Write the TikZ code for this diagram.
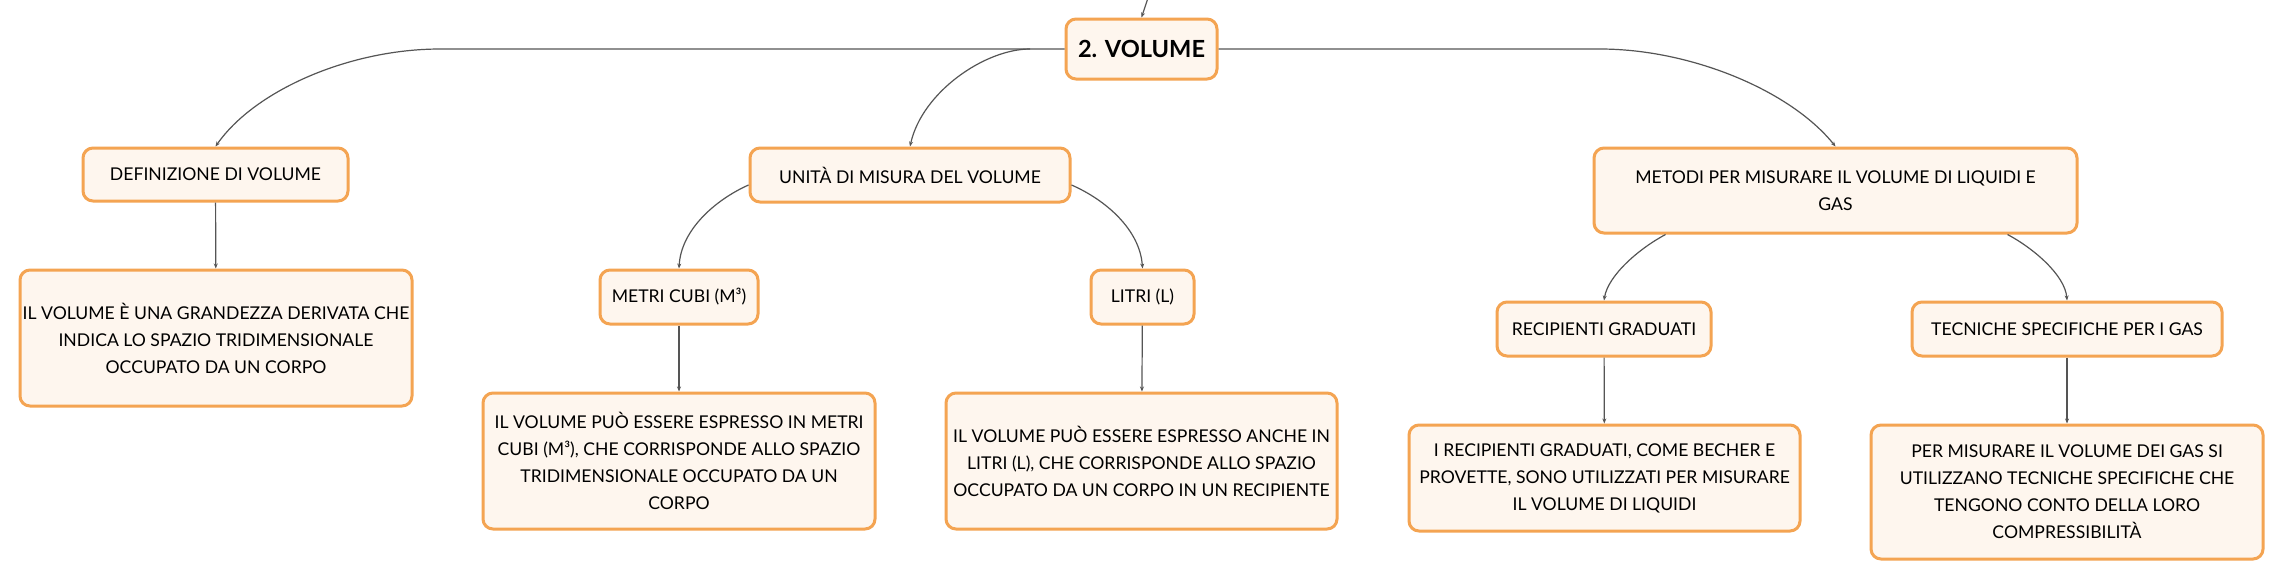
\documentclass[tikz,border=0pt]{standalone}
\usepackage{fontspec}
\setmainfont{Lato}
\usetikzlibrary{calc,arrows.meta}
\definecolor{mmorange}{HTML}{F4A452}
\definecolor{mmcream}{HTML}{FEF6EE}
\definecolor{mmgrey}{HTML}{555555}
\tikzset{
	box/.style={draw=mmorange, line width=1.5pt, fill=mmcream, rounded corners=5pt, align=center, inner sep=0pt, font=\fontsize{8.8}{13.5}\selectfont},
	sz/.style 2 args={minimum width=#1*0.5pt, minimum height=#2*0.5pt},
	link/.style={draw=mmgrey, line width=0.6pt, -{Stealth[length=2.5pt,width=2pt]}}
}
\begin{document}
\begin{tikzpicture}[x=0.5pt, y=-0.5pt]
		%%%%% START %%%%%
		
		\fill[white] (0, 0) rectangle (2284, 580);
		\useasboundingbox (0, 0) rectangle (2284, 580);
		
		\node[box, sz={151}{60}, font=\fontsize{11.8}{13.5}\selectfont\bfseries] (volume) at (1141.5, 49) {2. VOLUME};
		
		\node[box, sz={265}{53}] (defin) at (215.5, 174.5) {DEFINIZIONE DI VOLUME};
		\node[box, sz={320}{54}] (unita) at (910, 175) {UNITÀ DI MISURA DEL VOLUME};
		\node[box, sz={483}{85}] (metodi) at (1835.5, 190.5) {METODI PER MISURARE IL VOLUME DI LIQUIDI E\\GAS};
		
		\node[box, sz={392}{136}] (defintxt) at (216, 338) {IL VOLUME È UNA GRANDEZZA DERIVATA CHE\\INDICA LO SPAZIO TRIDIMENSIONALE\\OCCUPATO DA UN CORPO};
		
		\node[box, sz={158}{54}] (metri) at (679, 297) {METRI CUBI (M³)};
		\node[box, sz={103}{54}] (litri) at (1142.5, 297) {LITRI (L)};
		\node[box, sz={392}{136}] (metritxt) at (679, 461) {IL VOLUME PUÒ ESSERE ESPRESSO IN METRI\\CUBI (M³), CHE CORRISPONDE ALLO SPAZIO\\TRIDIMENSIONALE OCCUPATO DA UN\\CORPO};
		\node[box, sz={391}{136}] (litritxt) at (1141.5, 461) {IL VOLUME PUÒ ESSERE ESPRESSO ANCHE IN\\LITRI (L), CHE CORRISPONDE ALLO SPAZIO\\OCCUPATO DA UN CORPO IN UN RECIPIENTE};
		
		\node[box, sz={214}{54}] (recip) at (1604, 329) {RECIPIENTI GRADUATI};
		\node[box, sz={310}{54}] (tecn) at (2067, 329) {TECNICHE SPECIFICHE PER I GAS};
		\node[box, sz={391}{106}] (reciptxt) at (1604.5, 478) {I RECIPIENTI GRADUATI, COME BECHER E\\PROVETTE, SONO UTILIZZATI PER MISURARE\\IL VOLUME DI LIQUIDI};
		\node[box, sz={392}{134}] (tecntxt) at (2067, 492) {PER MISURARE IL VOLUME DEI GAS SI\\UTILIZZANO TECNICHE SPECIFICHE CHE\\TENGONO CONTO DELLA LORO\\COMPRESSIBILITÀ};
		
		\coordinate (above) at (1148, -2);
		\draw[link] (above) -- (volume.north);
		
		\draw[link] (volume.west) -- (440, 49) .. controls (350, 49) and (255, 90) .. (defin.north);
		\draw[link] (1030, 49) .. controls (985, 49) and (922, 92) .. (unita.north);
		\draw[link] (volume.east) -- (1600, 49) .. controls (1690, 49) and (1790, 90) .. (metodi.north);
		
		\draw[link] ($(unita.west)+(0, 10)$) .. controls (715, 200) and (681, 230) .. (metri.north);
		\draw[link] ($(unita.east)+(0, 10)$) .. controls (1106, 200) and (1140, 230) .. (litri.north);
		\draw[link] ($(metodi.south west)+(73, 0)$) .. controls (1640, 248) and (1608, 275) .. (recip.north);
		\draw[link] ($(metodi.south east)+(-71, 0)$) .. controls (2033, 248) and (2065, 275) .. (tecn.north);
		
		\draw[link] (defin) -- (defintxt);
		\draw[link] (metri) -- (metritxt);
		\draw[link] (litri) -- (litritxt);
		\draw[link] (recip) -- (reciptxt);
		\draw[link] (tecn) -- (tecntxt);
		
		%%%%% END %%%%%
	\end{tikzpicture}
\end{document}
